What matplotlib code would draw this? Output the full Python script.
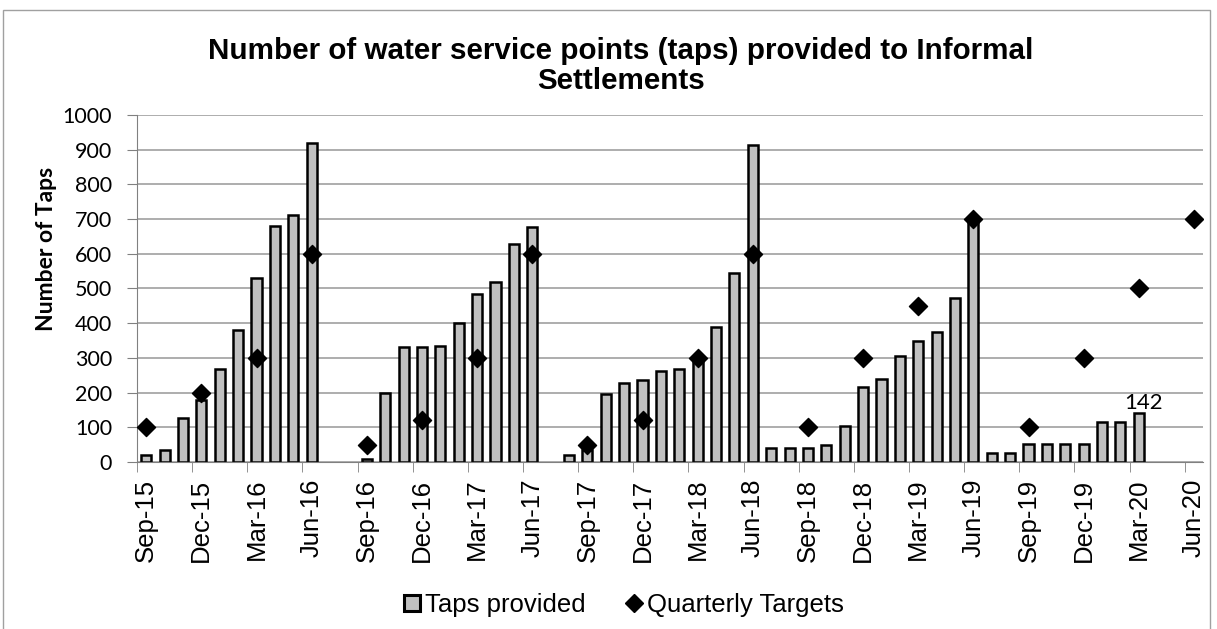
import numpy as np
import matplotlib.pyplot as plt
from matplotlib.patches import Rectangle, Patch
from matplotlib.lines import Line2D

plt.rcParams['font.family'] = ['Liberation Sans', 'DejaVu Sans']

# Monthly categories, Sep-15 .. Jun-20
month_names = ["Jan", "Feb", "Mar", "Apr", "May", "Jun",
               "Jul", "Aug", "Sep", "Oct", "Nov", "Dec"]
months = []
for k in range(58):
    m = (8 + k) % 12
    y = 15 + (8 + k) // 12
    months.append(f"{month_names[m]}-{y}")

# Taps provided per month (None = no bar)
taps = [20, 35, 128, 180, 268, 381, 531, 679, 712, 919,
        None, None, 10, 200, 331, 331, 333, 400, 484, 518,
        628, 678, None, 20, 35, 197, 228, 236, 262, 267,
        292, 388, 546, 913, 40, 40, 40, 50, 105, 215,
        238, 305, 350, 375, 472, 702, 25, 25, 53, 53,
        53, 53, 116, 116, 142, None, None, None]

# Quarterly targets (None = no marker)
targets = [100, None, None, 200, None, None, 300, None, None, 600,
           None, None, 50, None, None, 120, None, None, 300, None,
           None, 600, None, None, 50, None, None, 120, None, None,
           300, None, None, 600, None, None, 100, None, None, 300,
           None, None, 450, None, None, 700, None, None, 100, None,
           None, 300, None, None, 500, None, None, 700]

label_idx = 54  # Mar-20 bar carries a data label

x = np.arange(len(months))
bar_x = [i for i, v in enumerate(taps) if v is not None]
bar_v = [v for v in taps if v is not None]
tgt_x = [i for i, v in enumerate(targets) if v is not None]
tgt_v = [v for v in targets if v is not None]

fig = plt.figure(figsize=(12.17, 6.29), dpi=100)
ax = fig.add_axes([0.1126, 0.2655, 0.876, 0.5517])

# outer chart border
fig.patches.append(Rectangle((3 / 1217, -0.01), 1207 / 1217, 1 - 10 / 629 + 0.01,
                             transform=fig.transFigure, fill=False,
                             edgecolor='#a0a0a0', linewidth=1.0))

ax.bar(bar_x, bar_v, width=0.55, color='#c0c0c0', edgecolor='black',
       linewidth=1.8, zorder=2)
ax.scatter(tgt_x, tgt_v, marker='D', s=85, color='black', zorder=3)

ax.text(label_idx + 0.25, taps[label_idx] - 2, str(taps[label_idx]), ha='center',
        va='bottom', fontsize=16, family='Lato', zorder=4)

ax.set_xlim(-0.5, len(months) - 0.5)
ax.set_ylim(0, 1000)
ax.set_yticks(np.arange(0, 1001, 100))
ax.tick_params(axis='y', length=7, color='#808080', pad=11)
for t in ax.get_yticklabels():
    t.set_fontfamily('Lato')
    t.set_fontsize(15.5)
ax.yaxis.grid(True, color='#a0a0a0', linewidth=1.2, zorder=0)
ax.set_axisbelow(True)

ax.set_xticks(x[::3])
ax.set_xticklabels(months[::3], rotation=90, fontsize=18.5)
ax.tick_params(axis='x', length=0, pad=12)
ax.set_xticks(np.arange(-0.5, len(months), 3), minor=True)
ax.tick_params(axis='x', which='minor', length=7, color='#808080')

for s in ['top', 'right']:
    ax.spines[s].set_visible(False)
ax.spines['left'].set_color('#808080')
ax.spines['bottom'].set_color('#808080')

fig.text(47 / 1217, 1 - 249 / 629, "Number of Taps", rotation=90, ha='center',
         va='center', fontsize=16.5, fontweight='bold', family='Lato')
fig.text(0.51, 1 - 66 / 629, "Number of water service points (taps) provided to Informal\nSettlements",
         ha='center', va='center', fontsize=21.3, fontweight='bold', linespacing=1.07)

handles = [Patch(facecolor='#c0c0c0', edgecolor='black', linewidth=2.2),
           Line2D([], [], marker='D', color='black', linestyle='none', markersize=9)]
fig.legend(handles, ["Taps provided", "Quarterly Targets"], loc='center',
           bbox_to_anchor=(0.513, 0.038), ncol=2, frameon=False, fontsize=18.5,
           handlelength=0.6, handleheight=0.6, handletextpad=0.2, columnspacing=1.6)

fig.savefig("out.png", dpi=100)
